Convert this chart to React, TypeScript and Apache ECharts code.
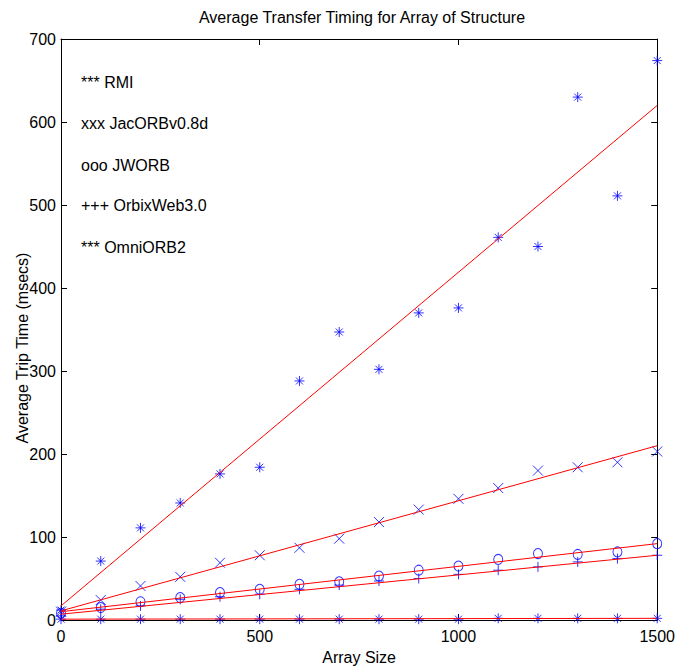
import React, { useEffect, useRef } from "react";
import * as echarts from "echarts";

const arraySizes = [0, 100, 200, 300, 400, 500, 600, 700, 800, 900, 1000, 1100, 1200, 1300, 1400, 1500];
const rmi = [12, 71, 111, 141, 176, 184, 288, 347, 302, 370, 376, 461, 450, 630, 511, 674];
const jacorb = [10, 24, 41, 52, 69, 78, 87, 98, 118, 133, 146, 159, 180, 184, 190, 203];
const jworb = [8, 15, 22, 27, 33, 37, 43, 46, 53, 60, 65, 73, 80, 79, 82, 92];
const orbix = [5, 13, 17, 25, 28, 31, 37, 42, 47, 50, 55, 60, 64, 70, 74, 78];
const omni = [1, 1, 1, 1, 1, 1, 1, 1, 1, 1, 1, 2, 2, 2, 2, 2];

// fitted lines: value at array size 0 and at 1500
const fitEnds = [0, 1500];
const rmiFit = [17, 620];
const jacorbFit = [11, 210];
const jworbFit = [10, 92];
const orbixFit = [7, 78];
const omniFit = [1, 2];

const legendLabels = ["*** RMI", "xxx JacORBv0.8d", "ooo JWORB", "+++ OrbixWeb3.0", "*** OmniORB2"];

const FONT = "'Liberation Sans', Arial, Helvetica, sans-serif";
const BLUE = "#0000ff";
const RED = "#ff0000";

const STAR = "path://M5,0L5,10M0,5L10,5M1.5,1.5L8.5,8.5M1.5,8.5L8.5,1.5";
const CROSS = "path://M0,0L10,10M0,10L10,0";
const PLUS = "path://M5,0L5,10M0,5L10,5";

const pairs = (ys: number[]) => arraySizes.map((x, i) => [x, ys[i]]);
const fitPairs = (ys: number[]) => fitEnds.map((x, i) => [x, ys[i]]);

function scatter(name: string, ys: number[], symbol: string, size: number | number[]) {
  return {
    type: "scatter",
    name,
    data: pairs(ys),
    symbol,
    symbolSize: size,
    clip: false,
    itemStyle: { color: "transparent", borderColor: BLUE, borderWidth: 1 },
    z: 3,
  };
}

function fit(name: string, ys: number[]) {
  return {
    type: "line",
    name,
    data: fitPairs(ys),
    showSymbol: false,
    symbol: "none",
    lineStyle: { color: RED, width: 1 },
    z: 4,
  };
}

export default function App() {
  const ref = useRef<HTMLDivElement>(null);
  useEffect(() => {
    if (!ref.current) return;
    const chart = echarts.init(ref.current, undefined, { renderer: "svg" });
    const axisLine = { show: true, onZero: false, lineStyle: { color: "#000", width: 1 } };
    const tick = { show: true, inside: true, length: 6, lineStyle: { color: "#000" } };
    const plain = (v: number) => String(v);
    chart.setOption({
      animation: false,
      backgroundColor: "#fff",
      grid: { left: 61, right: 20, top: 39, bottom: 51, containLabel: false },
      xAxis: [
        {
          type: "value",
          min: 0,
          max: 1500,
          interval: 500,
          position: "bottom",
          axisLine,
          axisTick: tick,
          splitLine: { show: false },
          axisLabel: { color: "#000", fontFamily: FONT, fontSize: 16, margin: 8, formatter: plain },
          name: "Array Size",
          nameLocation: "middle",
          nameGap: 29,
          nameTextStyle: { color: "#000", fontFamily: FONT, fontSize: 16 },
        },
        {
          type: "value",
          min: 0,
          max: 1500,
          interval: 500,
          position: "top",
          axisLine,
          axisTick: tick,
          splitLine: { show: false },
          axisLabel: { show: false },
        },
      ],
      yAxis: [
        {
          type: "value",
          min: 0,
          max: 700,
          interval: 100,
          position: "left",
          axisLine,
          axisTick: tick,
          splitLine: { show: false },
          axisLabel: { color: "#000", fontFamily: FONT, fontSize: 16, margin: 5, formatter: plain },
        },
        {
          type: "value",
          min: 0,
          max: 700,
          interval: 100,
          position: "right",
          axisLine,
          axisTick: tick,
          splitLine: { show: false },
          axisLabel: { show: false },
        },
      ],
      graphic: [
        {
          type: "text",
          x: 362,
          y: 17,
          style: {
            text: "Average Transfer Timing for Array of Structure",
            fontFamily: FONT,
            fontSize: 16,
            fill: "#000",
            align: "center",
            verticalAlign: "middle",
          },
        },
        {
          type: "text",
          x: 22,
          y: 348,
          rotation: Math.PI / 2,
          style: {
            text: "Average Trip Time (msecs)",
            fontFamily: FONT,
            fontSize: 16,
            fill: "#000",
            align: "center",
            verticalAlign: "middle",
          },
        },
        ...legendLabels.map((t, i) => ({
          type: "text",
          x: 81,
          y: [82, 123, 165, 205, 247][i],
          style: {
            text: t,
            fontFamily: FONT,
            fontSize: 16,
            fill: "#000",
            align: "left",
            verticalAlign: "middle",
          },
        })),
      ],
      series: [
        scatter("RMI", rmi, STAR, 10),
        scatter("JacORBv0.8d", jacorb, CROSS, 10),
        scatter("JWORB", jworb, "circle", [9, 10]),
        scatter("OrbixWeb3.0", orbix, PLUS, 10),
        scatter("OmniORB2", omni, STAR, 10),
        fit("RMI fit", rmiFit),
        fit("JacORB fit", jacorbFit),
        fit("JWORB fit", jworbFit),
        fit("Orbix fit", orbixFit),
        fit("Omni fit", omniFit),
      ],
    });
    return () => chart.dispose();
  }, []);
  return <div ref={ref} style={{ width: 678, height: 671, position: "absolute", left: 0, top: 0 }} />;
}
